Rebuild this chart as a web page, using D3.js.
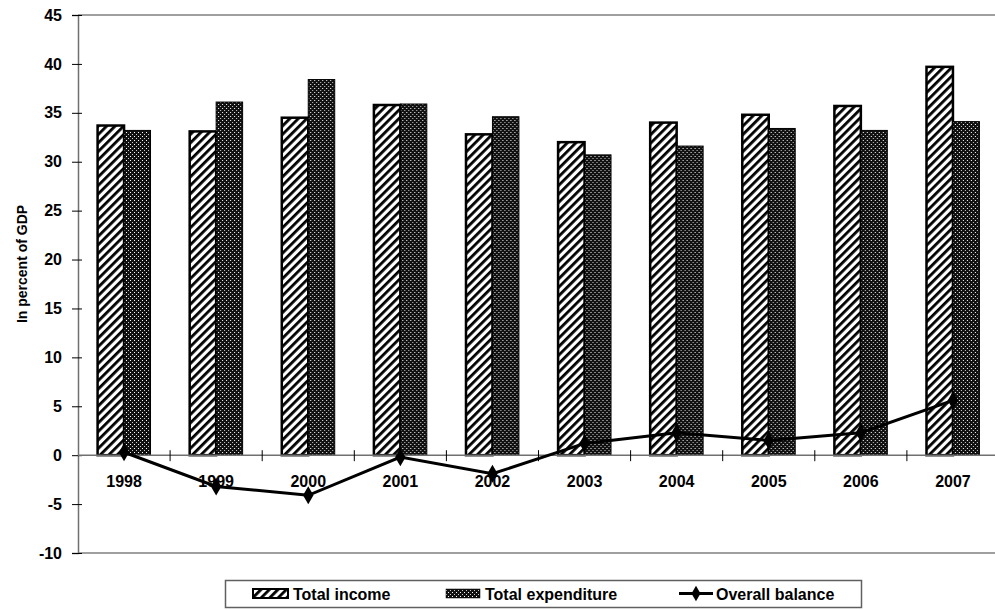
<!DOCTYPE html>
<html>
<head>
<meta charset="utf-8">
<script src="https://cdn.jsdelivr.net/npm/d3@7"></script>
<style>
  body { margin: 0; background: #fff; }
  text { font-family: "Liberation Sans", Arial, sans-serif; }
</style>
</head>
<body>
<div id="chart"></div>
<script>
// values
var years = ["1998", "1999", "2000", "2001", "2002", "2003", "2004", "2005", "2006", "2007"];
var income = [33.7, 33.1, 34.5, 35.8, 32.8, 32.0, 34.0, 34.8, 35.7, 39.7];
var expenditure = [33.2, 36.1, 38.4, 35.9, 34.6, 30.7, 31.6, 33.4, 33.2, 34.1];
var balance = [0.3, -3.2, -4.1, -0.2, -1.9, 1.2, 2.3, 1.5, 2.3, 5.6];
var yTicks = [-10, -5, 0, 5, 10, 15, 20, 25, 30, 35, 40, 45];

var width = 995, height = 610;
var margin = {top: 15, left: 78, right: -4, bottom: 57};

var svg = d3.select("#chart").append("svg")
    .attr("width", width)
    .attr("height", height);

// patterns
var defs = svg.append("defs");
var hatch = defs.append("pattern")
    .attr("id", "hatch")
    .attr("patternUnits", "userSpaceOnUse")
    .attr("width", 6).attr("height", 6)
    .attr("patternTransform", "rotate(45)");
hatch.append("rect").attr("width", 6).attr("height", 6).attr("fill", "#fff");
hatch.append("rect").attr("x", 0).attr("width", 2.8).attr("height", 6).attr("fill", "#000");

var dots = defs.append("pattern")
    .attr("id", "dots")
    .attr("patternUnits", "userSpaceOnUse")
    .attr("width", 4).attr("height", 4);
dots.append("rect").attr("width", 4).attr("height", 4).attr("fill", "#111");
dots.append("rect").attr("x", 0).attr("y", 0).attr("width", 1).attr("height", 1).attr("fill", "#fff");
dots.append("rect").attr("x", 2).attr("y", 2).attr("width", 1).attr("height", 1).attr("fill", "#ccc");

var x = d3.scaleBand()
    .domain(years)
    .range([margin.left, width - margin.right]);

var series = ["income", "expenditure"];
var x1 = d3.scaleBand()
    .domain(series)
    .range([0, x.bandwidth()])
    .paddingOuter(0.74);

var y = d3.scaleLinear()
    .domain([-10, 45])
    .range([553, margin.top]);

// top and bottom frame lines
svg.append("line")
    .attr("x1", margin.left).attr("x2", width)
    .attr("y1", y(45)).attr("y2", y(45))
    .attr("stroke", "#a0a0a0").attr("stroke-width", 2);
svg.append("line")
    .attr("x1", margin.left).attr("x2", width)
    .attr("y1", y(-10)).attr("y2", y(-10))
    .attr("stroke", "#a0a0a0").attr("stroke-width", 2);

// y axis
var yAxis = svg.append("g")
    .attr("transform", "translate(" + margin.left + ",0)")
    .call(d3.axisLeft(y).tickValues(yTicks).tickSize(6).tickPadding(10)
        .tickFormat(function(d) { return String(d); }));
yAxis.select(".domain").attr("stroke", "#707070").attr("stroke-width", 1.5);
yAxis.selectAll(".tick line").attr("x1", -6).attr("x2", 4).attr("stroke", "#000");
yAxis.selectAll(".tick text")
    .attr("font-size", 16).attr("font-weight", "bold")
    .attr("font-family", "Liberation Sans, Arial, sans-serif")
    .attr("fill", "#000");

// bars
var groups = svg.selectAll("g.year")
    .data(years)
    .enter().append("g")
    .attr("class", "year")
    .attr("transform", function(d) { return "translate(" + x(d) + ",0)"; });

groups.append("rect")
    .attr("x", x1("income"))
    .attr("width", x1.bandwidth())
    .attr("y", function(d, i) { return y(income[i]); })
    .attr("height", function(d, i) { return y(0) - y(income[i]); })
    .attr("fill", "url(#hatch)")
    .attr("stroke", "#000").attr("stroke-width", 2.5);

groups.append("rect")
    .attr("x", x1("expenditure"))
    .attr("width", x1.bandwidth())
    .attr("y", function(d, i) { return y(expenditure[i]); })
    .attr("height", function(d, i) { return y(0) - y(expenditure[i]); })
    .attr("fill", "url(#dots)")
    .attr("stroke", "#000").attr("stroke-width", 1);

// zero axis with ticks between categories
svg.append("line")
    .attr("x1", margin.left).attr("x2", width)
    .attr("y1", y(0)).attr("y2", y(0))
    .attr("stroke", "#707070").attr("stroke-width", 1.5);
svg.selectAll("line.xtick")
    .data(years.slice(1))
    .enter().append("line")
    .attr("class", "xtick")
    .attr("x1", function(d) { return x(d); })
    .attr("x2", function(d) { return x(d); })
    .attr("y1", y(0) - 5).attr("y2", y(0) + 6)
    .attr("stroke", "#000").attr("stroke-width", 1);

svg.selectAll("text.xlabel")
    .data(years)
    .enter().append("text")
    .attr("class", "xlabel")
    .attr("x", function(d) { return x(d) + x.bandwidth() / 2; })
    .attr("y", y(0) + 32)
    .attr("text-anchor", "middle")
    .attr("font-size", 16).attr("font-weight", "bold")
    .text(function(d) { return d; });

// overall balance line
var line = d3.line()
    .x(function(d, i) { return x(years[i]) + x.bandwidth() / 2; })
    .y(function(d) { return y(d); });

svg.append("path")
    .datum(balance)
    .attr("d", line)
    .attr("fill", "none")
    .attr("stroke", "#000")
    .attr("stroke-width", 3);

svg.selectAll("path.marker")
    .data(balance)
    .enter().append("path")
    .attr("class", "marker")
    .attr("d", d3.symbol().type(d3.symbolDiamond).size(95))
    .attr("transform", function(d, i) {
        return "translate(" + (x(years[i]) + x.bandwidth() / 2) + "," + y(d) + ")";
    })
    .attr("fill", "#000");

// y title
svg.append("text")
    .attr("transform", "translate(27,264) rotate(-90)")
    .attr("text-anchor", "middle")
    .attr("font-size", 14).attr("font-weight", "bold")
    .text("In percent of GDP");

// legend
var legend = svg.append("g");
legend.append("rect")
    .attr("x", 225.5).attr("y", 580.5)
    .attr("width", 636).attr("height", 27)
    .attr("fill", "#fff")
    .attr("stroke", "#606060").attr("stroke-width", 1.5);

legend.append("rect")
    .attr("x", 253).attr("y", 589).attr("width", 35).attr("height", 9)
    .attr("fill", "url(#hatch)").attr("stroke", "#000").attr("stroke-width", 2);
legend.append("text")
    .attr("x", 293).attr("y", 599.5)
    .attr("font-size", 16).attr("font-weight", "bold")
    .text("Total income");

legend.append("rect")
    .attr("x", 446).attr("y", 589).attr("width", 34).attr("height", 9)
    .attr("fill", "url(#dots)").attr("stroke", "#000").attr("stroke-width", 0.5);
legend.append("text")
    .attr("x", 485).attr("y", 599.5)
    .attr("font-size", 16).attr("font-weight", "bold")
    .text("Total expenditure");

legend.append("line")
    .attr("x1", 679).attr("x2", 713).attr("y1", 593.5).attr("y2", 593.5)
    .attr("stroke", "#000").attr("stroke-width", 3);
legend.append("path")
    .attr("d", d3.symbol().type(d3.symbolDiamond).size(70))
    .attr("transform", "translate(696,593.5)")
    .attr("fill", "#000");
legend.append("text")
    .attr("x", 716).attr("y", 599.5)
    .attr("font-size", 16).attr("font-weight", "bold")
    .text("Overall balance");
</script>
</body>
</html>
